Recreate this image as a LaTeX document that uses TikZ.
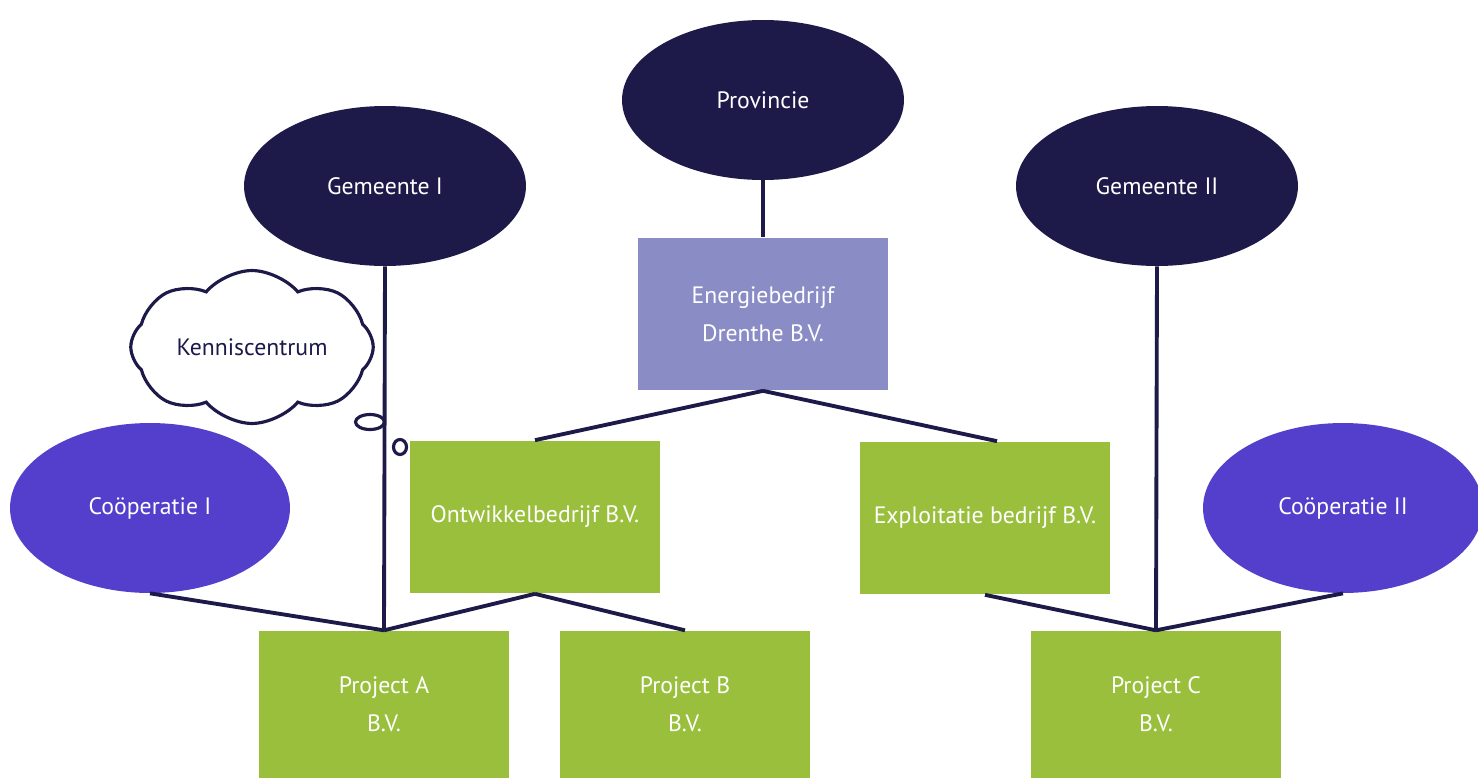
\documentclass[tikz,border=0pt]{standalone}
\usepackage{fontspec}
\setmainfont{PT Sans}
\usetikzlibrary{shapes.geometric, shapes.symbols}

\definecolor{navy}{HTML}{1D1A4A}
\definecolor{coop}{HTML}{533FCB}
\definecolor{energie}{HTML}{8A8CC6}
\definecolor{bvgreen}{HTML}{9ABF3D}

\begin{document}
\begin{tikzpicture}[
  x = 0.02cm, y = -0.02cm,
  font = \fontsize{13.5}{21.5}\selectfont,
  overheid/.style = {
    ellipse, fill = navy, text = white,
    minimum width = 5.64cm, minimum height = 3.2cm, inner sep = 0pt},
  cooperatie/.style = {
    ellipse, fill = coop, text = white,
    minimum width = 5.6cm, minimum height = 3.4cm, inner sep = 0pt},
  bedrijf/.style = {
    rectangle, fill = bvgreen, text = white, align = center,
    minimum width = 5.02cm, minimum height = 3.06cm, inner sep = 0pt},
  moeder/.style = {
    bedrijf, fill = energie},
  lijn/.style = {
    draw = navy, line width = 2.2pt},
  bel/.style = {
    ellipse, draw = navy, fill = white, line width = 1.8pt, inner sep = 0pt}
  ]
  \useasboundingbox (0,0) rectangle (1478,778);

  % overheden
  \node [overheid] (prov) at (763,100) {Provincie};
  \node [overheid] (gem1) at (385,186) {Gemeente I};
  \node [overheid] (gem2) at (1157,186) {Gemeente II};

  % bedrijven
  \node [moeder] (energie) at (763,314) {Energiebedrijf\\Drenthe B.V.};
  \node [bedrijf] (ontw) at (535,517) {Ontwikkelbedrijf B.V.};
  \node [bedrijf] (expl) at (985,518) {Exploitatie bedrijf B.V.};
  \node [bedrijf, minimum height = 2.94cm] (projA) at (384,778) [anchor = south] {Project A\\B.V.};
  \node [bedrijf, minimum height = 2.94cm] (projB) at (685,778) [anchor = south] {Project B\\B.V.};
  \node [bedrijf, minimum height = 2.94cm] (projC) at (1156,778) [anchor = south] {Project C\\B.V.};

  % cooperaties
  \node [cooperatie] (coop1) at (150,508) {Coöperatie I};
  \node [cooperatie] (coop2) at (1343,508) {Coöperatie II};

  % kenniscentrum
  \node [cloud, cloud puffs = 8, cloud puff arc = 100, aspect = 1.9,
    draw = navy, fill = white, line width = 1.8pt, text = navy,
    minimum width = 4.85cm, minimum height = 2.5cm] (kennis) at (252,347) {Kenniscentrum};
  \node [bel, minimum width = 0.58cm, minimum height = 0.3cm] (bel1) at (370,422) {};
  \node [bel, minimum width = 0.26cm, minimum height = 0.3cm] (bel2) at (400,447) {};

  % verbindingen
  \draw [lijn] (prov.south) -- (energie.north);
  \draw [lijn] (energie.south) -- (ontw.north);
  \draw [lijn] (energie.south) -- ([xshift = 0.24cm] expl.north);
  \draw [lijn] (gem1.south) -- (projA.north);
  \draw [lijn] (coop1.south) -- (projA.north);
  \draw [lijn] (ontw.south) -- (projA.north);
  \draw [lijn] (ontw.south) -- (projB.north);
  \draw [lijn] (gem2.south) -- (projC.north);
  \draw [lijn] (expl.south) -- (projC.north);
  \draw [lijn] (coop2.south) -- (projC.north);
\end{tikzpicture}
\end{document}
